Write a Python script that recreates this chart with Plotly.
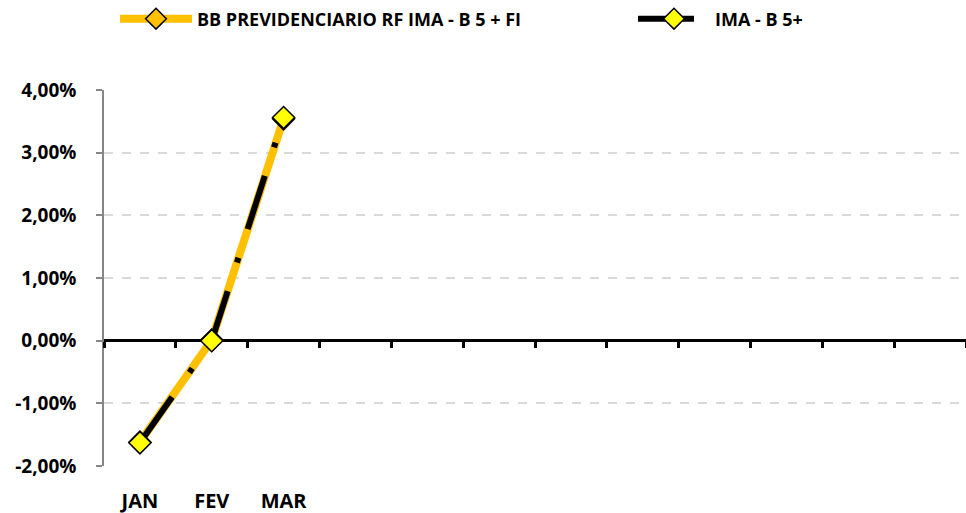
import plotly.graph_objects as go

# ---- data (percent) ----
months = ["JAN", "FEV", "MAR"]
n_slots = 12
fund_name = "BB PREVIDENCIARIO RF IMA - B 5 + FI"
fund_values = [-1.62, 0.01, 3.54]
index_name = "IMA - B 5+"
index_values = [-1.63, 0.00, 3.56]
y_ticks = [-2, -1, 0, 1, 2, 3, 4]

x_pos = list(range(len(months)))
FONT = "Open Sans"
W, H = 966, 513

fig = go.Figure()
fig.add_trace(go.Scatter(
    x=x_pos, y=[v / 100 for v in fund_values], name=fund_name, mode="lines+markers",
    line=dict(color="#FFC000", width=8),
    marker=dict(symbol="diamond", size=17, color="#FFC000", line=dict(color="black", width=1.5)),
    legend="legend",
))
fig.add_trace(go.Scatter(
    x=x_pos, y=[v / 100 for v in index_values], name=index_name, mode="lines+markers",
    line=dict(color="black", width=6, dash="56px,30px,5px,30px"),
    marker=dict(symbol="diamond", size=17, color="#FFFF00", line=dict(color="black", width=1.5)),
    legend="legend2",
))
# helper trace for the boundary tick axis crossing at zero
fig.add_trace(go.Scatter(x=[None], y=[None], xaxis="x2", showlegend=False, hoverinfo="skip"))

legend_font = dict(family=FONT, size=18, weight="bold")
fig.update_layout(
    width=W, height=H,
    margin=dict(l=104, r=0, t=90, b=47),
    paper_bgcolor="white", plot_bgcolor="white",
    font=dict(family=FONT, color="black"),
    showlegend=True,
    legend=dict(orientation="h", xref="container", x=115 / W, xanchor="left",
                yref="container", y=1 - 19 / H, yanchor="middle",
                font=legend_font, itemwidth=72, bgcolor="rgba(0,0,0,0)"),
    legend2=dict(orientation="h", xref="container", x=633 / W, xanchor="left",
                 yref="container", y=1 - 19 / H, yanchor="middle",
                 font=legend_font, itemwidth=72, bgcolor="rgba(0,0,0,0)"),
    xaxis=dict(range=[-0.5, n_slots - 0.5], tickvals=x_pos, ticktext=months,
               showgrid=False, zeroline=False, showline=False, ticks="",
               ticklabelstandoff=21,
               tickfont=dict(family=FONT, size=20, weight="bold")),
    xaxis2=dict(overlaying="x", anchor="free", position=1/3, range=[-0.5, n_slots - 0.5],
                tickvals=[i - 0.5 for i in range(n_slots + 1)], ticks="outside", ticklen=6,
                tickwidth=3, tickcolor="black", showticklabels=False, showgrid=False,
                zeroline=False, showline=False),
    yaxis=dict(range=[-0.02, 0.04], tickvals=[v / 100 for v in y_ticks],
               ticktext=[f"{v:.2f}%".replace(".", ",") for v in y_ticks],
               showgrid=True, gridcolor="#D9D9D9", gridwidth=1.5, griddash="dash",
               zeroline=True, zerolinecolor="black", zerolinewidth=3,
               showline=True, linecolor="#868686", linewidth=1.5,
               ticks="outside", ticklen=6, tickcolor="#868686", tickwidth=1.5,
               ticklabelstandoff=16,
               tickfont=dict(family=FONT, size=19, weight="bold")),
)

fig.write_html("out.html", config={"displayModeBar": False},
               post_script="document.body.style.margin='0';")
